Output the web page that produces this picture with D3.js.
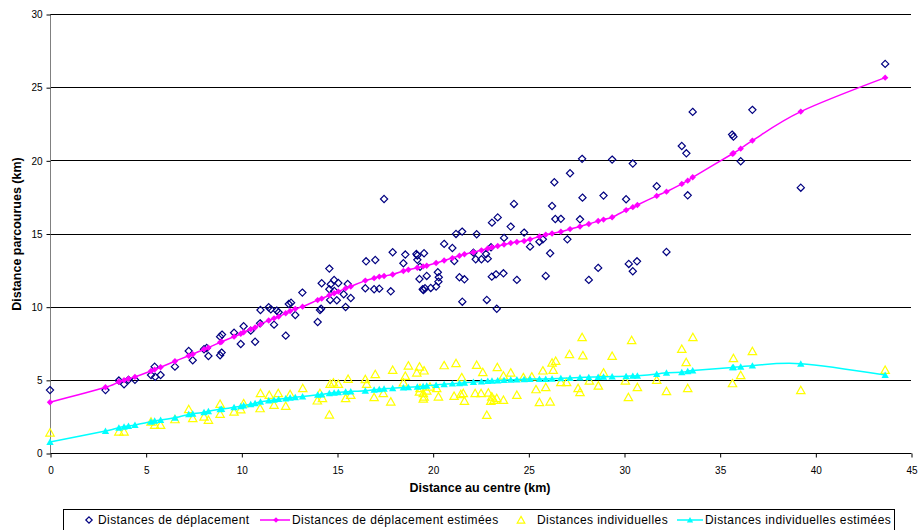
<!DOCTYPE html>
<html><head><meta charset="utf-8">
<script src="https://cdn.jsdelivr.net/npm/d3@7"></script>
<style>
body{margin:0;background:#fff;}
svg{display:block;font-family:"Liberation Sans",Arial,sans-serif;}
</style></head>
<body><svg id="c" width="919" height="530"></svg>
<script>
// Observed: distances de déplacement
const depX = [0,2.9,3.6,3.87,4.1,4.44,5.28,5.47,5.5,5.78,6.53,7.25,7.46,8.05,8.19,8.28,8.89,8.97,8.89,8.99,9.62,9.97,10.12,10.49,10.72,11.0,10.98,11.43,11.54,11.71,11.85,11.95,12.32,12.48,12.6,12.82,13.19,13.99,14.11,14.17,14.2,14.6,14.67,14.85,15.07,14.6,14.86,14.64,14.99,15.35,15.56,15.72,15.45,16.48,16.52,16.94,17.0,17.21,17.46,17.81,17.91,18.47,18.57,19.2,19.15,19.2,19.31,19.34,19.48,19.52,19.55,19.6,19.69,19.9,20.18,20.27,20.3,20.32,20.6,21.03,21.13,21.22,21.4,21.54,21.55,21.66,22.13,22.25,22.3,22.55,22.79,22.83,22.88,23.05,23.09,23.1,23.31,23.35,23.4,23.7,23.73,24.08,24.25,24.4,24.78,25.09,25.58,25.76,25.91,26.14,26.24,26.36,26.41,26.7,27.04,27.18,27.7,27.81,27.83,28.16,28.65,28.93,29.38,30.11,30.25,30.46,30.46,30.68,31.71,32.22,33.02,33.26,33.33,33.59,35.65,35.72,36.1,36.71,39.24,43.65];
const depY = [4.3,4.3,4.95,4.7,5.0,5.0,5.33,5.9,5.2,5.33,5.9,6.97,6.34,7.09,7.18,6.63,6.68,6.86,7.95,8.09,8.22,7.45,8.66,8.36,7.6,9.77,8.86,9.96,9.82,8.77,9.73,9.62,8.02,10.18,10.27,9.43,10.96,8.95,9.77,9.86,11.6,12.6,11.53,11.82,11.62,11.19,11.07,10.46,10.44,10.85,11.55,10.59,9.98,11.26,13.1,11.19,13.19,11.23,17.36,11.05,13.72,12.97,13.56,13.5,13.6,13.2,11.89,12.73,11.19,11.14,13.65,11.26,12.1,11.28,11.37,12.35,11.71,12.01,14.29,14.01,13.12,14.97,12.01,15.13,10.34,11.87,13.69,13.24,14.95,13.24,13.6,10.46,13.28,14.06,12.05,15.74,12.21,9.86,16.1,12.28,14.7,15.47,17.02,11.83,15.06,14.1,14.44,14.6,12.1,13.65,16.88,18.5,15.99,16.0,14.6,19.12,15.97,20.1,17.45,11.83,12.65,17.59,20.05,17.34,12.92,19.78,12.42,13.1,18.23,13.74,20.98,20.48,17.61,23.31,21.76,21.62,19.94,23.45,18.13,26.59];

// Observed: distances individuelles
const indX = [0,3.6,3.87,5.28,5.47,5.78,6.53,7.25,7.46,8.05,8.28,8.89,8.89,9.62,9.97,10.12,10.98,11.0,11.46,11.71,11.93,12.32,12.55,13.21,13.97,14.11,14.24,14.6,14.64,14.81,15.07,15.45,15.58,15.72,16.48,16.55,16.94,17.0,17.42,17.81,17.91,18.47,18.57,18.73,19.17,19.31,19.31,19.34,19.51,19.51,19.55,19.55,19.69,19.86,20.21,20.3,20.6,21.12,21.22,21.47,21.52,21.6,21.66,22.22,22.3,22.53,22.62,22.83,22.91,23.04,23.09,23.21,23.35,23.38,23.7,23.7,24.08,24.4,24.74,25.18,25.4,25.58,25.76,25.91,26.14,26.24,26.3,26.43,26.7,27.0,27.15,27.6,27.7,27.81,27.85,28.19,28.66,28.93,29.38,30.07,30.23,30.4,30.7,31.71,32.22,33.02,33.25,33.33,33.6,35.67,35.72,36.1,36.71,39.24,43.65];
const indY = [1.39,1.46,1.46,2.14,1.91,1.91,2.3,2.99,2.37,2.48,2.26,3.35,2.67,2.82,2.98,3.39,3.05,4.08,3.96,3.28,4.08,3.21,4.01,4.42,3.58,4.08,3.74,2.62,4.72,4.81,4.72,3.74,5.06,3.96,5.04,4.72,3.81,5.38,4.08,3.51,5.67,4.81,5.26,5.97,5.49,5.9,4.19,4.42,4.08,3.71,5.63,3.85,4.26,4.53,4.42,3.85,5.99,3.9,6.13,4.01,5.17,4.08,3.55,4.08,6.01,4.08,5.52,2.6,4.12,3.55,3.85,3.62,3.74,5.86,5.28,3.62,5.49,3.96,5.17,5.22,4.35,3.47,5.63,4.49,3.51,6.17,5.67,6.29,4.83,4.83,6.75,4.42,4.15,7.91,6.67,4.94,4.6,5.49,6.63,4.94,3.81,7.7,4.49,4.99,4.22,7.11,6.2,4.42,7.91,4.76,6.47,5.31,6.95,4.29,5.67];

// Estimated curves (read at observation abscissas)
const estX = [0,2.9,3.6,3.87,4.1,4.44,5.28,5.47,5.78,6.53,7.25,7.46,8.05,8.28,8.89,8.97,9.62,9.97,10.12,10.49,10.72,11.0,11.43,11.71,11.95,12.32,12.55,12.82,13.2,13.99,14.2,14.6,14.85,15.07,15.45,15.72,16.48,16.94,17.21,17.46,17.91,18.47,18.73,19.2,19.5,19.69,20.18,20.6,21.03,21.4,21.66,22.13,22.55,22.88,23.1,23.4,23.73,24.08,24.4,24.78,25.09,25.58,25.91,26.24,26.7,27.18,27.7,28.16,28.65,28.93,29.38,30.11,30.46,30.7,31.71,32.22,33.02,33.33,33.59,35.67,35.72,36.1,36.71,39.24,43.65];
const depEst = [3.47,4.49,4.87,4.98,5.07,5.2,5.6,5.7,5.86,6.27,6.65,6.75,7.09,7.2,7.56,7.6,7.95,8.15,8.25,8.45,8.58,8.8,9.05,9.2,9.32,9.55,9.7,9.85,10.0,10.45,10.55,10.78,10.92,11.03,11.25,11.38,11.78,11.95,12.05,12.1,12.2,12.44,12.52,12.66,12.75,12.8,12.98,13.15,13.32,13.48,13.58,13.72,13.85,13.98,14.06,14.15,14.25,14.35,14.42,14.49,14.6,14.8,14.92,15.0,15.12,15.3,15.48,15.65,15.85,15.95,16.11,16.6,16.8,16.95,17.57,17.86,18.39,18.61,18.84,20.45,20.48,20.8,21.35,23.33,25.65];
const indEst = [0.75,1.5,1.73,1.8,1.85,1.91,2.14,2.2,2.26,2.41,2.64,2.68,2.78,2.85,2.99,3.0,3.12,3.2,3.25,3.33,3.4,3.5,3.58,3.63,3.68,3.73,3.77,3.81,3.86,3.98,4.0,4.08,4.12,4.15,4.18,4.2,4.26,4.32,4.36,4.39,4.42,4.48,4.5,4.53,4.56,4.6,4.65,4.7,4.74,4.77,4.8,4.85,4.88,4.92,4.94,4.96,4.98,5.0,5.02,5.04,5.05,5.06,5.06,5.07,5.1,5.13,5.16,5.18,5.2,5.21,5.22,5.25,5.27,5.28,5.4,5.49,5.52,5.58,5.63,5.85,5.86,5.9,5.97,6.1,5.33];

const xTicks = [0,5,10,15,20,25,30,35,40,45];
const yTicks = [0,5,10,15,20,25,30];
const seriesNames = ["Distances de déplacement","Distances de déplacement estimées","Distances individuelles","Distances individuelles estimées"];

const svg = d3.select("#c");
const x = d3.scaleLinear().domain([0,45]).range([50,911]);
const y = d3.scaleLinear().domain([0,30]).range([453,14]);

// gridlines
svg.append("g").selectAll("line").data(yTicks.filter(d=>d>0)).join("line")
  .attr("x1",x(0)).attr("x2",x(45))
  .attr("y1",d=>Math.round(y(d))+0.5).attr("y2",d=>Math.round(y(d))+0.5)
  .attr("stroke","#000").attr("stroke-width",1);

// axes
const yAxis = svg.append("g").attr("transform","translate(50.5,0.5)")
  .call(d3.axisLeft(y).tickValues(yTicks).tickSize(4).tickPadding(4).tickFormat(d3.format("d")));
yAxis.select(".domain").attr("stroke","#808080").attr("d",`M0,${y(0)}V${y(30)}`);
yAxis.selectAll(".tick line").attr("stroke","#000");
yAxis.selectAll("text").attr("font-size",10).attr("fill","#000");

const xAxis = svg.append("g").attr("transform","translate(0.5,453.5)")
  .call(d3.axisBottom(x).tickValues(xTicks).tickSize(4).tickPadding(9).tickFormat(d3.format("d")));
xAxis.select(".domain").attr("stroke","#000").attr("d",`M${x(0)},0H${x(45)}`);
xAxis.selectAll(".tick line").attr("stroke","#000");
xAxis.selectAll("text").attr("font-size",10).attr("fill","#000");

// titles
svg.append("text").attr("x",480).attr("y",492).attr("text-anchor","middle")
  .attr("font-size",12.5).attr("font-weight","bold").text("Distance au centre (km)");
svg.append("text").attr("transform","translate(21,234) rotate(-90)").attr("text-anchor","middle")
  .attr("font-size",12.5).attr("font-weight","bold").text("Distance parcourues (km)");

const diamond = r => `M0,${-r}L${r},0L0,${r}L${-r},0Z`;
const tri = r => `M0,${-r}L${r*1.05},${r*0.85}L${-r*1.05},${r*0.85}Z`;

// series 1: diamonds
svg.append("g").selectAll("path").data(depX.map((d,i)=>[d,depY[i]])).join("path")
  .attr("transform",d=>`translate(${x(d[0])},${y(d[1])})`)
  .attr("d",diamond(3.6)).attr("fill","none").attr("stroke","#000080").attr("stroke-width",1.2);

// series 2: magenta estimated
const line = d3.line().x(d=>x(d[0])).y(d=>y(d[1])).curve(d3.curveCatmullRom.alpha(0));
const depPts = estX.map((d,i)=>[d,depEst[i]]);
svg.append("path").datum(depPts).attr("d",line).attr("fill","none").attr("stroke","#FF00FF").attr("stroke-width",1.5);
svg.append("g").selectAll("path").data(depPts).join("path")
  .attr("transform",d=>`translate(${x(d[0])},${y(d[1])})`)
  .attr("d",diamond(3.2)).attr("fill","#FF00FF");

// series 3: yellow triangles
svg.append("g").selectAll("path").data(indX.map((d,i)=>[d,indY[i]])).join("path")
  .attr("transform",d=>`translate(${x(d[0])},${y(d[1])})`)
  .attr("d",tri(4)).attr("fill","none").attr("stroke","#FFFF00").attr("stroke-width",1.2);

// series 4: cyan estimated
const indPts = estX.map((d,i)=>[d,indEst[i]]);
svg.append("path").datum(indPts).attr("d",line).attr("fill","none").attr("stroke","#00FFFF").attr("stroke-width",1.5);
svg.append("g").selectAll("path").data(indPts).join("path")
  .attr("transform",d=>`translate(${x(d[0])},${y(d[1])})`)
  .attr("d",tri(3.5)).attr("fill","#00FFFF");

// legend
const lg = svg.append("g");
lg.append("rect").attr("x",63.5).attr("y",509.5).attr("width",831).attr("height",30)
  .attr("fill","#fff").attr("stroke","#000").attr("stroke-width",1);
const ly = 520;
const items = [
  {sx:89, tx:98, kind:"dia"},
  {sx:276, lx1:260, lx2:290, tx:292, kind:"magline"},
  {sx:521, tx:537, kind:"tri"},
  {sx:690, lx1:677, lx2:703, tx:705, kind:"cyline"}
];
items.forEach((it,i)=>{
  if(it.kind==="dia") lg.append("path").attr("transform",`translate(${it.sx},${ly})`).attr("d",diamond(3.2)).attr("fill","none").attr("stroke","#000080").attr("stroke-width",1.2);
  if(it.kind==="tri") lg.append("path").attr("transform",`translate(${it.sx},${ly})`).attr("d",tri(3.6)).attr("fill","none").attr("stroke","#FFFF00").attr("stroke-width",1.2);
  if(it.kind==="magline"){
    lg.append("line").attr("x1",it.lx1).attr("x2",it.lx2).attr("y1",ly).attr("y2",ly).attr("stroke","#FF00FF").attr("stroke-width",1.5);
    lg.append("path").attr("transform",`translate(${it.sx},${ly})`).attr("d",diamond(2.8)).attr("fill","#FF00FF");
  }
  if(it.kind==="cyline"){
    lg.append("line").attr("x1",it.lx1).attr("x2",it.lx2).attr("y1",ly).attr("y2",ly).attr("stroke","#00FFFF").attr("stroke-width",1.5);
    lg.append("path").attr("transform",`translate(${it.sx},${ly})`).attr("d",tri(3)).attr("fill","#00FFFF");
  }
  lg.append("text").attr("x",it.tx).attr("y",524).attr("font-size",12).attr("letter-spacing",0.42).text(seriesNames[i]);
});
</script></body></html>
